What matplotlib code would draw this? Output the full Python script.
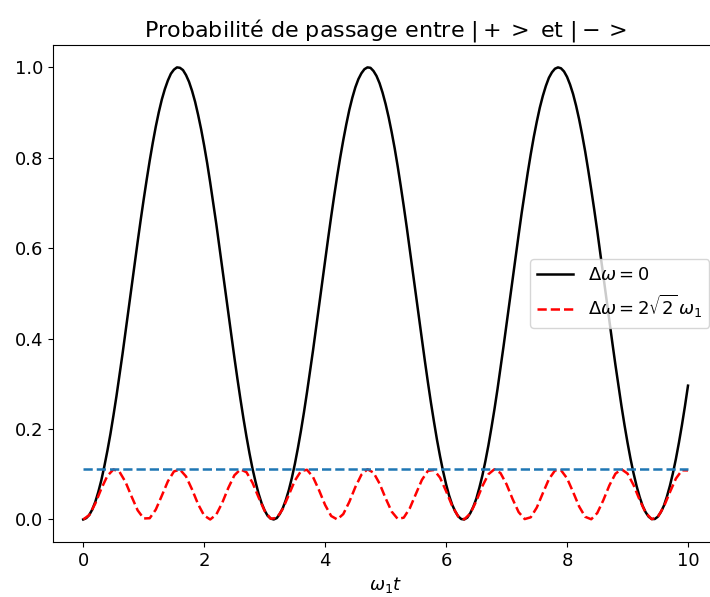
import numpy as np
import matplotlib
matplotlib.use("Agg")
import matplotlib.pyplot as plt

plt.rcParams['font.size'] = 13

# temps reduit w1*t
t_res = np.arange(201) / 20
t_off = np.arange(101) / 10

# probabilite de passage, resonance (delta omega = 0), pas de 0.05
p_res = [0.000, 0.003, 0.010, 0.022, 0.039, 0.061, 0.087, 0.118, 0.152, 0.189,
         0.230, 0.273, 0.319, 0.366, 0.415, 0.465, 0.515, 0.565, 0.614, 0.662,
         0.708, 0.752, 0.794, 0.833, 0.869, 0.901, 0.929, 0.952, 0.971, 0.986,
         0.995, 1.000, 0.999, 0.994, 0.983, 0.968, 0.948, 0.924, 0.895, 0.863,
         0.827, 0.788, 0.745, 0.700, 0.654, 0.605, 0.556, 0.506, 0.456, 0.407,
         0.358, 0.311, 0.266, 0.223, 0.183, 0.146, 0.112, 0.083, 0.057, 0.036,
         0.020, 0.008, 0.002, 0.000, 0.003, 0.012, 0.025, 0.043, 0.065, 0.092,
         0.123, 0.158, 0.196, 0.237, 0.281, 0.327, 0.374, 0.423, 0.473, 0.523,
         0.573, 0.622, 0.670, 0.716, 0.760, 0.801, 0.839, 0.874, 0.906, 0.933,
         0.956, 0.974, 0.987, 0.996, 1.000, 0.999, 0.992, 0.981, 0.965, 0.944,
         0.919, 0.890, 0.857, 0.821, 0.781, 0.738, 0.693, 0.646, 0.597, 0.548,
         0.498, 0.448, 0.399, 0.350, 0.303, 0.258, 0.216, 0.176, 0.140, 0.107,
         0.078, 0.053, 0.033, 0.018, 0.007, 0.001, 0.000, 0.004, 0.014, 0.028,
         0.046, 0.070, 0.097, 0.129, 0.164, 0.203, 0.244, 0.288, 0.335, 0.383,
         0.432, 0.481, 0.531, 0.581, 0.630, 0.678, 0.723, 0.767, 0.808, 0.846,
         0.880, 0.911, 0.937, 0.959, 0.977, 0.989, 0.997, 1.000, 0.998, 0.991,
         0.979, 0.962, 0.941, 0.915, 0.885, 0.851, 0.814, 0.773, 0.730, 0.685,
         0.638, 0.589, 0.539, 0.489, 0.440, 0.390, 0.342, 0.296, 0.251, 0.209,
         0.170, 0.134, 0.102, 0.074, 0.050, 0.030, 0.016, 0.006, 0.001, 0.001,
         0.006, 0.016, 0.030, 0.050, 0.074, 0.102, 0.134, 0.170, 0.209, 0.251,
         0.296]

# hors resonance (delta omega = 2 sqrt(2) w1), pas de 0.1
p_off = [0.0000, 0.0097, 0.0354, 0.0682, 0.0965, 0.1106, 0.1054, 0.0828, 0.0507, 0.0203,
         0.0022, 0.0028, 0.0218, 0.0526, 0.0844, 0.1062, 0.1103, 0.0952, 0.0664, 0.0337,
         0.0087, 0.0000, 0.0108, 0.0372, 0.0700, 0.0978, 0.1108, 0.1045, 0.0811, 0.0488,
         0.0189, 0.0017, 0.0034, 0.0233, 0.0544, 0.0860, 0.1069, 0.1099, 0.0939, 0.0645,
         0.0320, 0.0077, 0.0001, 0.0119, 0.0389, 0.0718, 0.0990, 0.1110, 0.1036, 0.0795,
         0.0470, 0.0175, 0.0013, 0.0040, 0.0248, 0.0563, 0.0875, 0.1076, 0.1095, 0.0925,
         0.0627, 0.0303, 0.0068, 0.0003, 0.0131, 0.0407, 0.0736, 0.1001, 0.1111, 0.1026,
         0.0778, 0.0451, 0.0162, 0.0009, 0.0048, 0.0264, 0.0582, 0.0891, 0.1082, 0.1090,
         0.0911, 0.0608, 0.0287, 0.0059, 0.0005, 0.0143, 0.0426, 0.0754, 0.1012, 0.1111,
         0.1016, 0.0761, 0.0433, 0.0149, 0.0006, 0.0056, 0.0280, 0.0600, 0.0905, 0.1088,
         0.1085]

# amplitude max hors resonance
p_max = 0.111

fig = plt.figure(figsize=(7.10, 5.97), dpi=100)
ax = fig.add_axes([0.0746, 0.092, 0.937, 0.833])

ax.plot(t_res, p_res, color='black', lw=1.8, label=r'$\Delta\omega = 0$')
ax.plot(t_off, p_off, '--', color='red', lw=1.8, label=r'$\Delta\omega = 2\sqrt{2}\,\omega_1$')
ax.plot([t_off[0], t_off[-1]], [p_max, p_max], '--', color='C0', lw=1.8)

ax.set_xlabel(r'$\omega_1 t$')
ax.set_title(r'Probabilité de passage entre $|+>$ et $|->$', fontsize=16)
ax.legend(loc='center right')

fig.savefig('out.png', dpi=100)
